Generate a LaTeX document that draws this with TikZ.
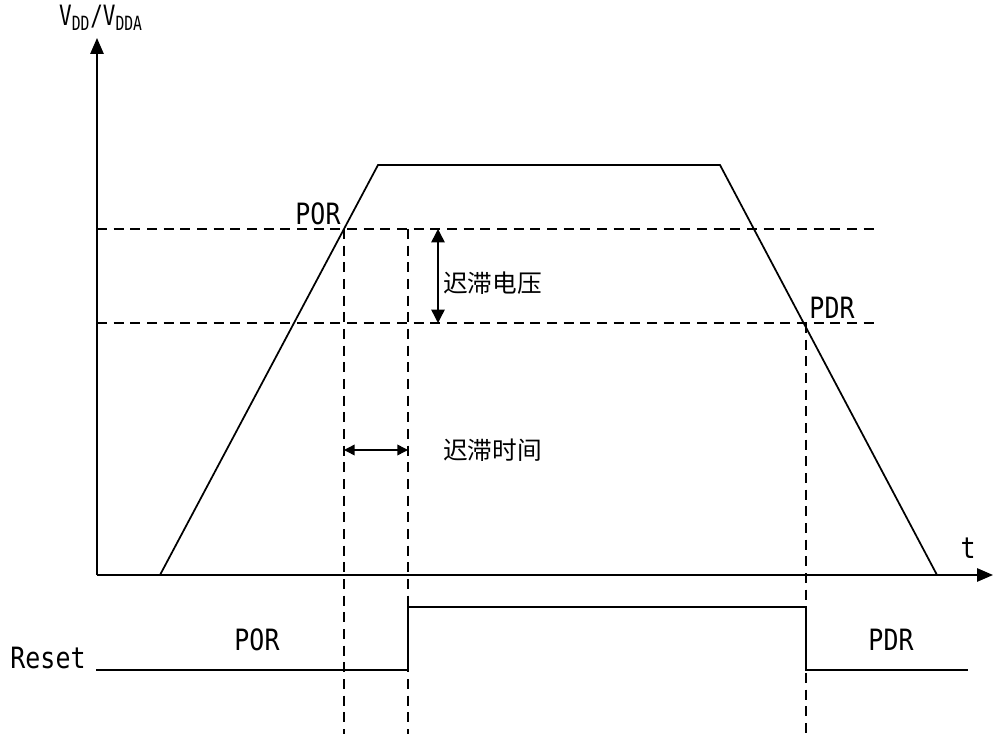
\documentclass[tikz,border=0pt]{standalone}
\usepackage{fontspec}
\setmainfont[FakeStretch=0.85]{DejaVu Sans Mono}
\newfontfamily\cjk{Noto Sans CJK SC}
\newfontfamily\ylabfont[FakeStretch=0.75]{DejaVu Sans Mono}
\usetikzlibrary{arrows.meta}
\begin{document}
\begin{tikzpicture}[x=0.75pt,y=-0.75pt,
  line/.style={line width=1.3pt},
  dashline/.style={line width=1.1pt,dash pattern=on 7.5pt off 5pt},
  axis/.style={line width=1.4pt,-{Triangle[length=12pt,width=10pt]}},
  dbl/.style={line width=1.1pt,{Triangle[length=10pt,width=10pt]}-{Triangle[length=10pt,width=10pt]}},
  dblh/.style={line width=1.1pt,{Triangle[length=8pt,width=8pt]}-{Triangle[length=8pt,width=8pt]}},
  lab/.style={inner sep=0pt,font=\fontsize{22pt}{24pt}\selectfont},
  cn/.style={inner sep=0pt,font=\cjk\fontsize{18.5pt}{20pt}\selectfont}]
\useasboundingbox (0,0) rectangle (993,734);
% axes
\coordinate (O) at (97,575);
\coordinate (Ytop) at (97,38);
\coordinate (Xend) at (993,575);
\draw[axis] (O) -- (Ytop);
\draw[axis] (O) -- (Xend);
\node[inner sep=0pt,anchor=south,font=\ylabfont\fontsize{21pt}{23pt}\selectfont] (ylab) at (101,31) {V\textsubscript{DD}/V\textsubscript{DDA}};
\node[lab] (tlab) at (968,548) {t};
% trapezoid
\coordinate (A) at (160,575);
\coordinate (B) at (378,165);
\coordinate (C) at (720,165);
\coordinate (D) at (937,575);
\draw[line] (A) -- (B) -- (C) -- (D);
% threshold lines
\coordinate (P1) at (97,229);
\coordinate (P2) at (877,229);
\coordinate (Q1) at (97,323);
\coordinate (Q2) at (877,323);
\draw[dashline] (P1) -- (P2);
\draw[dashline] (Q1) -- (Q2);
% verticals
\coordinate (V1t) at (344,229);
\coordinate (V1b) at (344,734);
\coordinate (V2t) at (408,229);
\coordinate (V2b) at (408,734);
\coordinate (V3t) at (806,323);
\coordinate (V3b) at (806,734);
\draw[dashline] (V1t) -- (V1b);
\draw[dashline] (V2t) -- (V2b);
\draw[dashline] (V3t) -- (V3b);
% labels
\node[lab] (por) at (318,214) {POR};
\node[lab] (pdr) at (832,308) {PDR};
% hysteresis voltage
\coordinate (H1) at (438,229);
\coordinate (H2) at (438,323);
\draw[dbl] (H1) -- (H2);
\node[cn,anchor=west] (hv) at (443,283) {迟滞电压};
% hysteresis time
\coordinate (T1) at (344,450);
\coordinate (T2) at (408,450);
\draw[dblh] (T1) -- (T2);
\node[cn,anchor=west] (ht) at (443,450) {迟滞时间};
% reset signal
\coordinate (R0) at (96,670);
\coordinate (R1) at (408,670);
\coordinate (R2) at (408,607);
\coordinate (R3) at (806,607);
\coordinate (R4) at (806,670);
\coordinate (R5) at (968,670);
\draw[line] (R0) -- (R1) -- (R2) -- (R3) -- (R4) -- (R5);
\node[lab] (reset) at (48,658) {Reset};
\node[lab] (por2) at (257,640) {POR};
\node[lab] (pdr2) at (891,640) {PDR};
\end{tikzpicture}
\end{document}
